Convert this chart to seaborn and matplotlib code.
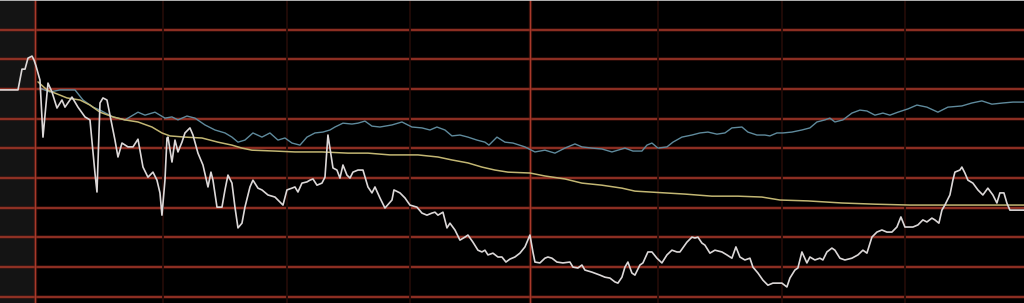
import numpy as np
import pandas as pd
import matplotlib
matplotlib.use("Agg")
import matplotlib.pyplot as plt
import seaborn as sns

# ---- data: minutes from open, % change vs previous close ----
price_min = [-8.48, -4.12, -3.15, -2.42, -1.70, -0.73, -0.24, 0.24, 1.21, 1.94, 3.15, 4.12, 5.33, 6.54, 7.27,
             8.97, 10.42, 12.12, 13.33, 14.54, 15.03, 15.76, 16.48, 17.45, 18.18, 19.39, 20.12, 21.09, 22.54,
             23.76, 24.97, 26.18, 27.39, 28.60, 29.57, 30.30, 30.78, 31.51, 32.00, 32.24, 33.21, 33.94, 34.66,
             35.63, 36.36, 37.57, 38.30, 39.51, 40.72, 41.94, 42.66, 43.15, 44.12, 45.33, 46.06, 46.78, 47.75,
             48.48, 49.21, 50.18, 50.90, 52.12, 52.84, 54.06, 55.02, 56.48, 58.18, 59.39, 60.12, 61.08, 62.30,
             63.02, 63.75, 64.72, 65.93, 66.66, 67.39, 68.36, 69.57, 70.30, 70.78, 71.02, 71.51, 72.24, 73.20,
             73.93, 74.66, 75.63, 76.36, 77.08, 78.30, 79.51, 80.72, 81.69, 82.42, 83.63, 84.84, 86.54, 87.02,
             88.48, 89.69, 90.90, 92.60, 93.81, 95.02, 96.23, 96.96, 97.69, 98.90, 99.87, 100.60, 101.81,
             103.02, 104.23, 104.96, 106.17, 107.38, 108.35, 109.08, 109.81, 111.02, 112.23, 113.20, 114.17,
             115.14, 116.35, 117.56, 118.78, 119.99, 120.71, 121.20, 122.41, 123.62, 124.35, 125.32, 126.53,
             127.99, 129.68, 130.41, 131.62, 132.59, 133.32, 135.02, 136.96, 138.17, 139.38, 140.59, 141.32,
             142.29, 143.02, 143.74, 144.71, 145.44, 146.65, 147.38, 148.59, 149.56, 150.77, 151.98, 153.20,
             154.41, 155.62, 156.35, 158.04, 159.26, 159.98, 160.71, 161.68, 162.41, 163.62, 164.83, 166.53,
             167.74, 168.95, 169.92, 170.89, 172.10, 173.32, 174.04, 175.26, 176.47, 177.68, 178.89, 181.07,
             182.28, 183.01, 184.22, 184.95, 185.92, 187.13, 187.86, 189.07, 190.28, 191.01, 191.98, 193.19,
             193.92, 195.13, 196.34, 198.04, 199.50, 200.71, 201.68, 202.89, 204.10, 205.31, 206.52, 207.74,
             208.95, 209.92, 210.89, 212.83, 214.04, 215.25, 216.22, 217.43, 218.16, 219.13, 219.86, 220.58,
             221.80, 222.52, 223.01, 224.22, 224.70, 225.43, 226.16, 227.37, 228.58, 229.79, 231.00, 232.22,
             233.19, 233.92, 234.89, 235.61, 236.34, 239.73]
price_pct = [-0.03, -0.03, 0.67, 0.67, 1.04, 1.11, 0.98, 0.78, 0.30, -1.62, 0.20, -0.10, -0.64, -0.37, -0.61,
             -0.27, -0.61, -0.94, -1.04, -2.83, -3.47, -0.47, -0.30, -0.37, -0.88, -1.72, -2.29, -1.82, -1.95,
             -1.95, -1.69, -2.63, -2.97, -2.80, -3.07, -3.50, -4.25, -3.07, -1.65, -1.62, -2.46, -1.72, -2.12,
             -1.79, -1.48, -1.31, -1.55, -2.16, -2.56, -3.30, -2.80, -3.07, -3.98, -3.98, -3.40, -2.90, -3.17,
             -3.98, -4.68, -4.52, -3.98, -3.30, -3.07, -3.34, -3.40, -3.57, -3.64, -3.81, -3.91, -3.40, -3.34,
             -3.30, -3.47, -3.17, -3.13, -3.07, -3.03, -3.24, -3.17, -2.97, -1.99, -1.55, -1.99, -2.66, -2.73,
             -3.00, -2.56, -2.90, -3.00, -2.80, -2.73, -2.73, -3.30, -3.50, -3.30, -3.67, -4.01, -3.74, -3.40,
             -3.50, -3.67, -3.91, -3.98, -4.18, -4.25, -4.18, -4.15, -4.25, -4.15, -4.68, -4.52, -4.75,
             -5.09, -4.99, -4.92, -5.16, -5.43, -5.49, -5.43, -5.59, -5.53, -5.66, -5.66, -5.83,
             -5.73, -5.66, -5.53, -5.32, -4.92, -5.49, -5.83, -5.86, -5.70, -5.66, -5.70, -5.83,
             -5.86, -5.83, -6.00, -6.03, -5.93, -6.10, -6.17, -6.27, -6.34, -6.37, -6.50, -6.54,
             -6.34, -6.00, -5.83, -6.20, -6.27, -5.93, -5.86, -5.49, -5.49, -5.70, -5.86, -5.59,
             -5.43, -5.49, -5.49, -5.16, -4.99, -5.02, -4.99, -5.19, -5.26, -5.53, -5.43, -5.49,
             -5.59, -5.70, -5.32, -5.66, -5.76, -5.70, -6.00, -6.20, -6.44, -6.61, -6.54, -6.54,
             -6.67, -6.37, -6.10, -6.03, -5.49, -5.86, -5.66, -5.76, -5.70, -5.76, -5.49, -5.36,
             -5.43, -5.70, -5.76, -5.70, -5.59, -5.43, -5.53, -4.99, -4.82, -4.75, -4.82, -4.82,
             -4.65, -4.31, -4.65, -4.65, -4.58, -4.41, -4.48, -4.35, -4.41, -4.52, -4.08, -3.91,
             -3.57, -3.07, -2.80, -2.73, -2.63, -2.83, -3.07, -3.17, -3.40, -3.57, -3.34, -3.57,
             -3.84, -3.50, -3.50, -3.84, -4.08, -4.08]

index_min = [1.21, 3.64, 6.06, 8.48, 9.70, 11.64, 14.06, 15.76, 18.91, 21.82, 24.97, 26.67, 29.09, 31.51,
             33.21, 34.66, 36.84, 38.78, 41.21, 43.63, 46.06, 47.75, 49.21, 50.90, 52.84, 55.02, 56.96, 58.90,
             60.60, 62.30, 64.24, 65.93, 67.87, 69.81, 71.51, 72.72, 74.66, 76.84, 78.30, 79.99, 81.69, 83.63,
             86.54, 88.96, 91.38, 93.81, 95.75, 97.44, 99.38, 101.08, 103.02, 104.96, 107.14, 109.08, 110.05,
             111.99, 113.93, 115.87, 118.78, 121.20, 123.62, 126.05, 128.47, 130.90, 132.59, 135.02, 137.44,
             139.86, 141.32, 143.02, 144.96, 147.14, 148.35, 149.56, 151.02, 153.20, 154.65, 156.83, 159.26,
             161.20, 163.14, 165.32, 167.26, 168.95, 171.38, 172.83, 175.01, 176.95, 178.16, 179.86, 181.31,
             183.49, 185.92, 187.86, 189.56, 191.50, 192.71, 193.92, 195.86, 198.04, 199.98, 201.68, 203.62,
             205.56, 207.25, 209.19, 211.62, 213.80, 216.22, 218.89, 221.31, 224.70, 227.13, 229.55, 231.98,
             234.64, 237.07, 239.73]
index_pct = [0.03, -0.10, -0.03, -0.03, -0.03, -0.37, -0.61, -0.71, -0.94, -1.04, -0.78, -0.88, -0.78, -0.98,
             -0.94, -1.04, -0.91, -0.98, -1.21, -1.38, -1.48, -1.62, -1.79, -1.72, -1.48, -1.62, -1.48, -1.72,
             -1.65, -1.82, -1.89, -1.62, -1.48, -1.45, -1.38, -1.28, -1.15, -1.18, -1.15, -1.08, -1.25, -1.28,
             -1.21, -1.11, -1.28, -1.31, -1.38, -1.28, -1.38, -1.58, -1.55, -1.62, -1.72, -1.79, -1.89,
             -1.62, -1.79, -1.82, -1.95, -2.12, -2.06, -2.16, -1.99, -1.85, -1.95, -1.99, -2.02,
             -2.12, -2.06, -1.99, -2.09, -2.09, -1.89, -1.82, -1.99, -1.95, -1.79, -1.62, -1.55,
             -1.48, -1.45, -1.52, -1.48, -1.31, -1.28, -1.45, -1.55, -1.55, -1.58, -1.48, -1.48,
             -1.45, -1.38, -1.31, -1.11, -1.04, -0.98, -1.11, -1.04, -0.81, -0.71, -0.74, -0.88,
             -0.81, -0.88, -0.78, -0.67, -0.54, -0.61, -0.78, -0.61, -0.57, -0.47, -0.40, -0.51,
             -0.47, -0.44, -0.44]

avg_min = [0.73, 2.91, 7.76, 10.91, 13.33, 15.76, 18.91, 21.82, 24.97, 28.36, 30.78, 32.72, 36.36, 40.48,
           44.36, 47.75, 50.18, 52.60, 58.18, 63.02, 69.57, 75.87, 80.72, 86.05, 92.84, 97.69, 101.08,
           104.96, 108.35, 111.50, 114.66, 119.99, 123.62, 128.47, 132.59, 137.44, 142.29, 145.44, 149.07,
           152.71, 157.56, 164.10, 170.41, 176.23, 180.59, 187.38, 195.62, 203.62, 212.10, 239.73]
avg_pct = [0.24, -0.03, -0.30, -0.37, -0.54, -0.78, -0.94, -1.04, -1.11, -1.28, -1.48, -1.58, -1.62, -1.65,
           -1.79, -1.89, -1.99, -2.06, -2.09, -2.12, -2.12, -2.16, -2.16, -2.22, -2.22, -2.29, -2.39,
           -2.49, -2.63, -2.73, -2.80, -2.83, -2.93, -3.03, -3.17, -3.24, -3.34, -3.44, -3.47,
           -3.50, -3.54, -3.61, -3.61, -3.64, -3.74, -3.77, -3.84, -3.88, -3.91, -3.91]

h_grid = [2, 1, 0, -1, -2, -3, -4, -5, -6, -7]
main_vlines = [0, 120]
minor_vlines = [31, 61, 91, 151, 181, 211]

# ---- figure ----
sns.set_style("dark", {"axes.facecolor": "black", "figure.facecolor": "black"})
fig = plt.figure(figsize=(10.24, 3.03), dpi=100)
ax = fig.add_axes([0, 0, 1, 1])
ax.set_facecolor("black")

ax.axvspan(-8.48, 0, color="#141414", lw=0, zorder=0)

for v in h_grid:
    ax.axhline(v, color="#6a1e14", lw=2.6, alpha=0.45, zorder=1)
    ax.axhline(v, color="#a8392a", lw=1.1, zorder=1)
for v in minor_vlines:
    ax.axvline(v, color="#220a07", lw=1.3, zorder=1)
for v in main_vlines:
    ax.axvline(v, color="#6a1e14", lw=2.4, alpha=0.45, zorder=1)
    ax.axvline(v, color="#a8392a", lw=1.0, zorder=1)
ax.axhline(2.99, color="#cfcfcf", lw=1.2, zorder=1)

df_p = pd.DataFrame({"minute": price_min, "pct": price_pct})
df_i = pd.DataFrame({"minute": index_min, "pct": index_pct})
df_a = pd.DataFrame({"minute": avg_min, "pct": avg_pct})

sns.lineplot(data=df_i, x="minute", y="pct", ax=ax, color="#5f8a9c", lw=1.0, estimator=None, sort=False, zorder=3)
sns.lineplot(data=df_a, x="minute", y="pct", ax=ax, color="#c2b673", lw=1.1, estimator=None, sort=False, zorder=3)
sns.lineplot(data=df_p, x="minute", y="pct", ax=ax, color="#dcd8d8", lw=1.2, estimator=None, sort=False, zorder=4)

ax.set_xlim(-8.48, 239.76)
ax.set_ylim(-7.21, 3.0)
ax.set_axis_off()

fig.savefig("out.png", dpi=100, facecolor="black")
